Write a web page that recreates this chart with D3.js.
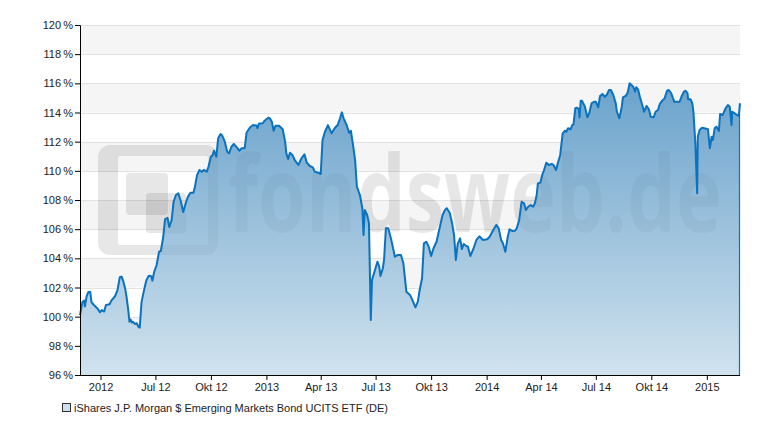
<!DOCTYPE html>
<html>
<head>
<meta charset="utf-8">
<script src="https://cdn.jsdelivr.net/npm/d3@7"></script>
<style>
  body { margin: 0; background: #fff; }
  svg text { font-family: "Liberation Sans", Arial, sans-serif; }
</style>
</head>
<body>
<div id="chart"></div>
<script>
// values (percent of start value)
var dates = [
  "2012-02-27","2012-03-02","2012-03-05","2012-03-06","2012-03-09","2012-03-12","2012-03-15","2012-03-17","2012-03-21","2012-03-26",
  "2012-03-28","2012-03-31","2012-04-03","2012-04-07","2012-04-10","2012-04-16","2012-04-19","2012-04-25","2012-04-29","2012-05-03",
  "2012-05-06","2012-05-09","2012-05-12","2012-05-14","2012-05-17","2012-05-19","2012-05-21","2012-05-23","2012-05-25","2012-05-28",
  "2012-05-31","2012-06-03","2012-06-05","2012-06-08","2012-06-11","2012-06-14","2012-06-16","2012-06-20","2012-06-24","2012-06-26",
  "2012-06-29","2012-07-03","2012-07-07","2012-07-10","2012-07-14","2012-07-17","2012-07-21","2012-07-24","2012-07-28","2012-07-31",
  "2012-08-04","2012-08-08","2012-08-12","2012-08-16","2012-08-21","2012-08-24","2012-08-28","2012-09-02","2012-09-04","2012-09-08",
  "2012-09-12","2012-09-16","2012-09-19","2012-09-24","2012-09-27","2012-10-01","2012-10-04","2012-10-06","2012-10-10","2012-10-13",
  "2012-10-17","2012-10-20","2012-10-24","2012-10-28","2012-10-31","2012-11-04","2012-11-08","2012-11-13","2012-11-17","2012-11-21",
  "2012-11-26","2012-11-29","2012-12-05","2012-12-10","2012-12-16","2012-12-17","2012-12-20","2012-12-26","2012-12-29","2013-01-04",
  "2013-01-07","2013-01-10","2013-01-13","2013-01-16","2013-01-22","2013-01-28","2013-02-01","2013-02-03","2013-02-06","2013-02-09",
  "2013-02-13","2013-02-17","2013-02-23","2013-02-28","2013-03-05","2013-03-09","2013-03-14","2013-03-19","2013-03-22","2013-03-28",
  "2013-04-01","2013-04-04","2013-04-08","2013-04-13","2013-04-19","2013-04-24","2013-04-29","2013-05-03","2013-05-06","2013-05-09",
  "2013-05-14","2013-05-18","2013-05-21","2013-05-25","2013-05-28","2013-05-31","2013-06-05","2013-06-09","2013-06-11","2013-06-13",
  "2013-06-17","2013-06-20","2013-06-23","2013-06-25","2013-06-30","2013-07-04","2013-07-07","2013-07-09","2013-07-13","2013-07-15",
  "2013-07-18","2013-07-22","2013-07-27","2013-08-02","2013-08-07","2013-08-12","2013-08-16","2013-08-21","2013-08-27","2013-08-31",
  "2013-09-05","2013-09-09","2013-09-12","2013-09-16","2013-09-19","2013-09-23","2013-09-27","2013-10-01","2013-10-05","2013-10-10",
  "2013-10-15","2013-10-20","2013-10-24","2013-10-27","2013-11-01","2013-11-05","2013-11-08","2013-11-11","2013-11-14","2013-11-18",
  "2013-11-21","2013-11-24","2013-11-29","2013-12-01","2013-12-05","2013-12-10","2013-12-15","2013-12-20","2013-12-26","2014-01-02",
  "2014-01-06","2014-01-12","2014-01-17","2014-01-21","2014-01-25","2014-01-28","2014-02-01","2014-02-05","2014-02-08","2014-02-13",
  "2014-02-17","2014-02-20","2014-02-24","2014-02-28","2014-03-04","2014-03-07","2014-03-11","2014-03-15","2014-03-19","2014-03-22",
  "2014-03-25","2014-03-27","2014-03-31","2014-04-04","2014-04-06","2014-04-10","2014-04-14","2014-04-19","2014-04-22","2014-04-26",
  "2014-04-29","2014-05-03","2014-05-07","2014-05-11","2014-05-13","2014-05-16","2014-05-20","2014-05-23","2014-05-25","2014-05-28",
  "2014-05-31","2014-06-03","2014-06-04","2014-06-06","2014-06-08","2014-06-13","2014-06-17","2014-06-20","2014-06-24","2014-06-28",
  "2014-07-01","2014-07-05","2014-07-08","2014-07-12","2014-07-16","2014-07-19","2014-07-23","2014-07-26","2014-07-30","2014-08-03",
  "2014-08-05","2014-08-09","2014-08-13","2014-08-15","2014-08-20","2014-08-23","2014-08-26","2014-08-29","2014-09-01","2014-09-04",
  "2014-09-06","2014-09-09","2014-09-12","2014-09-16","2014-09-19","2014-09-23","2014-09-27","2014-09-30","2014-10-05","2014-10-08",
  "2014-10-12","2014-10-15","2014-10-19","2014-10-23","2014-10-27","2014-10-30","2014-11-03","2014-11-08","2014-11-12","2014-11-17",
  "2014-11-20","2014-11-24","2014-11-27","2014-11-30","2014-12-01","2014-12-05","2014-12-08","2014-12-10","2014-12-13","2014-12-16",
  "2014-12-17","2014-12-20","2014-12-24","2014-12-28","2015-01-03","2015-01-06","2015-01-09","2015-01-11","2015-01-14","2015-01-17",
  "2015-01-21","2015-01-23","2015-01-27","2015-01-29","2015-02-01","2015-02-05","2015-02-08","2015-02-11","2015-02-12","2015-02-16",
  "2015-02-20","2015-02-23","2015-02-25"
];
var values = [
  100.1,101.0,101.1,100.7,101.4,101.7,101.7,101.0,100.8,100.6,
  100.5,100.3,100.45,100.35,100.8,100.85,101.1,101.4,101.8,102.7,
  102.75,102.4,101.9,101.4,100.45,99.65,99.8,99.6,99.65,99.5,
  99.55,99.3,99.25,101.0,101.6,102.15,102.5,102.8,102.78,102.47,
  103.08,103.54,104.45,104.5,105.48,106.68,106.78,106.15,106.63,107.86,
  108.34,108.46,107.93,107.18,107.88,108.23,108.5,108.5,108.8,109.71,
  110.06,109.94,110.06,109.94,110.28,110.97,111.09,111.38,110.97,112.23,
  112.53,112.39,112.0,111.31,111.2,111.65,111.84,111.61,111.38,111.55,
  111.55,112.61,112.99,113.14,113.11,112.92,113.25,113.26,113.44,113.64,
  113.59,113.37,112.75,113.09,113.09,112.85,112.0,111.2,110.81,111.24,
  111.09,110.74,110.4,110.86,111.13,110.56,110.33,110.24,109.94,109.87,
  109.78,112.11,112.68,113.14,112.57,112.92,113.14,113.6,114.01,113.6,
  113.14,112.61,112.75,111.65,110.74,108.91,108.34,107.43,105.6,107.31,
  106.97,106.4,99.77,102.51,103.2,103.77,103.43,102.79,103.32,103.89,
  106.06,106.06,105.26,104.11,104.23,104.23,103.66,101.71,101.49,101.14,
  100.64,101.03,101.83,102.63,105.03,105.14,104.8,104.16,104.69,105.14,
  106.06,106.97,107.31,107.43,107.11,106.35,105.6,103.89,104.98,105.37,
  104.64,104.98,104.83,104.8,104.16,104.64,105.26,105.51,105.26,105.31,
  105.48,105.94,106.29,106.06,105.26,105.03,104.45,105.48,105.99,105.87,
  105.89,106.06,106.63,107.88,107.77,107.31,107.54,107.66,107.54,107.77,
  108.34,109.14,109.19,109.83,110.02,110.56,110.4,110.47,110.4,110.06,
  110.52,111.09,112.57,112.75,112.68,112.92,112.85,113.14,113.19,114.29,
  114.33,114.22,113.67,114.81,114.81,114.4,113.67,113.95,114.63,114.74,
  114.74,114.36,115.13,115.27,115.08,115.2,115.54,115.54,115.2,114.63,
  114.05,113.6,114.4,115.04,115.15,115.39,116.0,115.89,115.77,115.43,
  115.73,115.59,115.08,114.51,114.05,114.45,114.22,113.71,113.67,114.05,
  114.17,114.58,114.81,114.97,115.49,115.54,115.32,114.74,114.74,114.74,
  115.08,115.43,115.49,115.32,114.91,114.91,114.63,113.95,111.89,108.46,
  112.34,112.8,112.96,112.92,112.85,111.55,112.34,112.11,112.92,113.03,
  112.73,113.9,113.83,113.99,114.29,114.51,114.4,113.14,114.05,113.95,
  113.83,113.76,114.63
];
var seriesName = "iShares J.P. Morgan $ Emerging Markets Bond UCITS ETF (DE)";
var xDomain = ["2012-02-27", "2015-02-25"];
var yTicks = [96, 98, 100, 102, 104, 106, 108, 110, 112, 114, 116, 118, 120];
var xTickDates = ["2012-04-01","2012-07-01","2012-10-01","2013-01-01","2013-04-01","2013-07-01",
                  "2013-10-01","2014-01-01","2014-04-01","2014-07-01","2014-10-01","2015-01-01"];
var xTickLabels = ["2012","Jul 12","Okt 12","2013","Apr 13","Jul 13",
                   "Okt 13","2014","Apr 14","Jul 14","Okt 14","2015"];

var W = 775, H = 440;
var margin = {top: 25, right: 35, bottom: 65, left: 80};
var innerW = W - margin.left - margin.right;
var innerH = H - margin.top - margin.bottom;
var parse = d3.timeParse("%Y-%m-%d");

var data = dates.map(function (d, i) { return {date: parse(d), value: values[i]}; });

var x = d3.scaleTime().domain(xDomain.map(parse)).range([0, innerW]);
var y = d3.scaleLinear().domain([96, 120]).range([innerH, 0]);

var svg = d3.select("#chart").append("svg")
    .attr("width", W).attr("height", H);

var defs = svg.append("defs");
var grad = defs.append("linearGradient")
    .attr("id", "areaGrad")
    .attr("gradientUnits", "userSpaceOnUse")
    .attr("x1", 0).attr("y1", 0).attr("x2", 0).attr("y2", innerH);
grad.append("stop").attr("offset", "0%").attr("stop-color", "#5696c5");
grad.append("stop").attr("offset", "100%").attr("stop-color", "#d0e2ee");

var g = svg.append("g").attr("transform", "translate(" + margin.left + "," + margin.top + ")");

// alternating bands
var bands = yTicks.slice(0, -1).filter(function (t) { return (t - 96) % 4 === 2; });
g.selectAll(".band").data(bands).enter().append("rect")
    .attr("class", "band")
    .attr("x", 0).attr("width", innerW)
    .attr("y", function (t) { return y(t + 2); })
    .attr("height", function (t) { return y(t) - y(t + 2); })
    .attr("fill", "#f5f5f5");

// grid
g.selectAll(".grid").data(yTicks.slice(1)).enter().append("line")
    .attr("class", "grid")
    .attr("x1", 0).attr("x2", innerW)
    .attr("y1", function (t) { return Math.round(y(t)) + 0.5; })
    .attr("y2", function (t) { return Math.round(y(t)) + 0.5; })
    .attr("stroke", "#e2e2e2");

// watermark, drawn once below the area and once faintly on top of it
function watermark(parent, opacity) {
  var wm = parent.append("g").attr("fill", "#000").attr("fill-opacity", opacity);
  wm.append("path")
      .attr("fill-rule", "evenodd")
      .attr("d", "M30,120 h96 a12,12 0 0 1 12,12 v86 a12,12 0 0 1 -12,12 h-96 a12,12 0 0 1 -12,-12 v-86 a12,12 0 0 1 12,-12 z" +
                 "M40,131 h86 a2,2 0 0 1 2,2 v85 a2,2 0 0 1 -2,2 h-86 a2,2 0 0 1 -2,-2 v-85 a2,2 0 0 1 2,-2 z");
  wm.append("rect").attr("x", 46).attr("y", 148).attr("width", 42).attr("height", 42).attr("rx", 4);
  wm.append("rect").attr("x", 66).attr("y", 168).attr("width", 40).attr("height", 40).attr("rx", 3);
  wm.append("text")
      .attr("transform", "translate(148,207) scale(0.73,1)")
      .style("font-family", "'Open Sans', sans-serif")
      .style("font-weight", 700)
      .style("font-size", "106px")
      .text("fondsweb.de");
}
watermark(g, 0.06);

// area + line
var area = d3.area()
    .x(function (d) { return x(d.date); })
    .y0(innerH)
    .y1(function (d) { return y(d.value); });
var line = d3.line()
    .x(function (d) { return x(d.date); })
    .y(function (d) { return y(d.value); });

g.append("path").datum(data)
    .attr("d", area)
    .attr("fill", "url(#areaGrad)");

watermark(g, 0.035);

var last = data[data.length - 1];
g.append("line")
    .attr("x1", x(last.date) - 0.5).attr("x2", x(last.date) - 0.5)
    .attr("y1", y(last.value)).attr("y2", innerH)
    .attr("stroke", "#0a72be").attr("stroke-width", 1.2);

g.append("path").datum(data)
    .attr("d", line)
    .attr("fill", "none")
    .attr("stroke", "#0a72be")
    .attr("stroke-width", 2)
    .attr("stroke-linejoin", "round");

// axes
var yAxis = d3.axisLeft(y).tickValues(yTicks).tickSize(5).tickPadding(2)
    .tickFormat(function (t) { return t + "\u2009%"; });
var xAxis = d3.axisBottom(x).tickValues(xTickDates.map(parse)).tickSize(5).tickPadding(3)
    .tickFormat(function (d, i) { return xTickLabels[i]; });

var ya = g.append("g").call(yAxis);
var xa = g.append("g").attr("transform", "translate(0," + innerH + ")").call(xAxis);
[ya, xa].forEach(function (a) {
  a.select(".domain").attr("stroke", "#000");
  a.selectAll(".tick line").attr("stroke", "#000");
  a.selectAll("text").attr("fill", "#222").style("font-size", "11px");
});
xa.select(".domain").attr("d", "M0.5,0.5H" + innerW);

// legend
var lg = svg.append("g").attr("transform", "translate(62,403)");
lg.append("rect").attr("x", 0.5).attr("y", 0.5).attr("width", 8).attr("height", 8)
    .attr("fill", "#cfe0ec").attr("stroke", "#333");
lg.append("text").attr("x", 12).attr("y", 9)
    .attr("fill", "#222").style("font-size", "11px")
    .text(seriesName);
</script>
</body>
</html>
